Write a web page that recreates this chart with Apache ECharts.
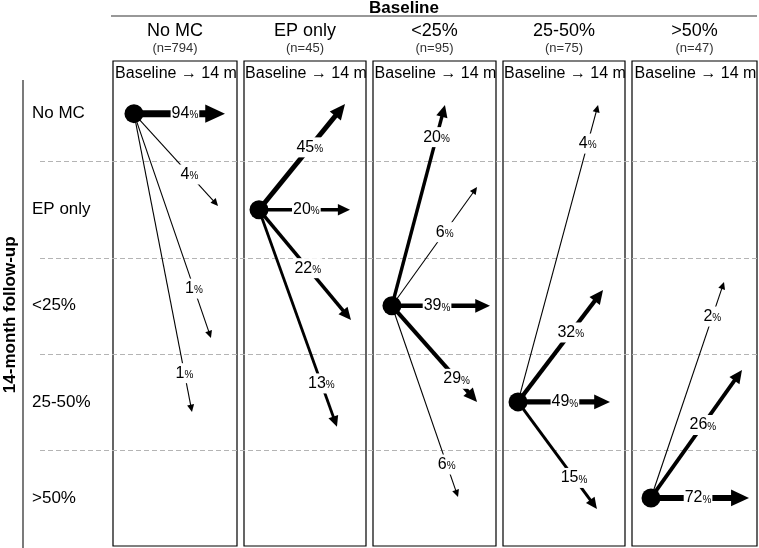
<!DOCTYPE html>
<html><head><meta charset="utf-8">
<script src="https://cdn.jsdelivr.net/npm/echarts@6/dist/echarts.min.js"></script>
<style>html,body{margin:0;padding:0;background:#fff}#c{width:759px;height:548px}</style>
</head><body><div id="c"></div>
<script>
// ---------- data ----------
const rowLabels = ['No MC', 'EP only', '<25%', '25-50%', '>50%'];      // 14-month follow-up categories
const baselineGroups = ['No MC', 'EP only', '<25%', '25-50%', '>50%']; // baseline categories
const groupN = [794, 45, 95, 75, 47];
// destination row (index into rowLabels) and percentage for each baseline group
const noMcDest = [0, 1, 2, 3];
const noMcPct = [94, 4, 1, 1];
const epOnlyDest = [0, 1, 2, 3];
const epOnlyPct = [45, 20, 22, 13];
const lt25Dest = [0, 1, 2, 3, 4];
const lt25Pct = [20, 6, 39, 29, 6];
const mid2550Dest = [0, 2, 3, 4];
const mid2550Pct = [4, 32, 49, 15];
const gt50Dest = [2, 3, 4];
const gt50Pct = [2, 26, 72];

// ---------- drawing layout (not data) ----------
// arrow tip: [x within panel 0..1, offset from destination row centre in row units]; label position along arrow
const noMcTips = [[0.903, 0], [0.847, -0.04], [0.79, 0.335], [0.637, 0.105]];
const noMcLabelAt = [0.56, 0.66, 0.78, 0.87];
const epOnlyTips = [[0.828, -0.10], [0.869, 0], [0.877, 0.148], [0.762, 0.26]];
const epOnlyLabelAt = [0.59, 0.52, 0.53, 0.80];
const lt25Tips = [[0.585, -0.09], [0.846, -0.236], [0.951, 0], [0.846, 0], [0.691, -0.01]];
const lt25LabelAt = [0.84, 0.62, 0.46, 0.76, 0.83];
const mid2550Tips = [[0.779, -0.09], [0.82, -0.165], [0.877, 0], [0.77, 0.115]];
const mid2550LabelAt = [0.87, 0.62, 0.51, 0.71];
const gt50Tips = [[0.736, -0.248], [0.88, -0.332], [0.936, 0]];
const gt50LabelAt = [0.84, 0.57, 0.48];
const dotX = [0.169, 0.123, 0.154, 0.123, 0.152];

const panelLeft = [113, 244, 373, 503, 632];
const panelWidth = [124, 122, 123, 122, 125];
const BOX_TOP = 61, ROW_TOP = 65.6, BOTTOM = 2;
const ROW_H = (548 - BOTTOM - ROW_TOP) / 5;
const FONT = '"Liberation Sans", Arial, Helvetica, sans-serif';

const panels = [
  [noMcDest, noMcPct, noMcTips, noMcLabelAt],
  [epOnlyDest, epOnlyPct, epOnlyTips, epOnlyLabelAt],
  [lt25Dest, lt25Pct, lt25Tips, lt25LabelAt],
  [mid2550Dest, mid2550Pct, mid2550Tips, mid2550LabelAt],
  [gt50Dest, gt50Pct, gt50Tips, gt50LabelAt]
];

function strokeWidth(p) { return p < 10 ? 1.1 : 0.31 + 0.69 * Math.sqrt(p); }

function makeRender(srcRow, dx0) {
  return function (params, api) {
    const dest = api.value(0), pct = api.value(1), tx = api.value(2), tdy = api.value(3), lt = api.value(4);
    const a = api.coord([dx0, srcRow + 0.5]);
    const b = api.coord([tx, dest + 0.5 + tdy]);
    const dx = b[0] - a[0], dy = b[1] - a[1], L = Math.hypot(dx, dy);
    const ux = dx / L, uy = dy / L, nx = -uy, ny = ux;
    const w = strokeWidth(pct), hl = 5 + 2.1 * w, hw = 2.5 + 0.95 * w;
    const base = [b[0] - ux * hl, b[1] - uy * hl];
    const lineEnd = [b[0] - ux * hl * 0.7, b[1] - uy * hl * 0.7];
    const lp = [a[0] + dx * lt, a[1] + dy * lt];
    return {
      type: 'group',
      children: [
        { type: 'line', shape: { x1: a[0], y1: a[1], x2: lineEnd[0], y2: lineEnd[1] }, style: { stroke: '#000', lineWidth: w } },
        { type: 'polygon', shape: { points: [b, [base[0] + nx * hw, base[1] + ny * hw], [base[0] - nx * hw, base[1] - ny * hw]] }, style: { fill: '#000' } },
        {
          type: 'text', x: lp[0], y: lp[1], z2: 10,
          style: {
            text: '{v|' + pct + '}{p|%}', align: 'center', verticalAlign: 'middle',
            fontSize: 16, fontFamily: FONT, fill: '#000',
            backgroundColor: '#fff', padding: [2, 1],
            rich: {
              v: { fontSize: 16, fontFamily: FONT, fill: '#000', verticalAlign: 'bottom' },
              p: { fontSize: 10, fontFamily: FONT, fill: '#000', verticalAlign: 'bottom', padding: [0, 0, 1, 0] }
            }
          }
        }
      ]
    };
  };
}

const grid = [
  { left: 40, right: 2, top: ROW_TOP, bottom: BOTTOM },
  { left: 23, width: 90, top: ROW_TOP, bottom: BOTTOM }
];
const xAxis = [
  { gridIndex: 0, type: 'value', show: false, min: 0, max: 1 },
  { gridIndex: 1, type: 'value', show: false, min: 0, max: 1 }
];
const yAxis = [
  {
    gridIndex: 0, type: 'value', inverse: true, min: 0, max: 5, interval: 1,
    axisLine: { show: false }, axisTick: { show: false }, axisLabel: { show: false },
    splitLine: { show: true, showMinLine: false, showMaxLine: false, lineStyle: { color: '#b4b4b4', type: [5, 3], width: 1 } }
  },
  {
    gridIndex: 1, type: 'category', data: rowLabels, inverse: true,
    axisLine: { show: false }, axisTick: { show: false }, splitLine: { show: false },
    axisLabel: { inside: true, align: 'left', margin: 9, fontSize: 17, color: '#000', fontFamily: FONT },
    name: '14-month follow-up', nameLocation: 'middle', nameRotate: 90, nameGap: 4,
    nameTextStyle: { fontSize: 17, fontWeight: 'bold', color: '#000', fontFamily: FONT, padding: [0, 18, 0, 0] }
  }
];
const series = [];
const yMinPanel = -(ROW_TOP - BOX_TOP) / ROW_H;

panels.forEach((p, i) => {
  const gi = i + 2;
  grid.push({ left: panelLeft[i], width: panelWidth[i], top: BOX_TOP, bottom: BOTTOM, show: true, borderColor: '#000', borderWidth: 1.2, backgroundColor: 'transparent' });
  xAxis.push({
    gridIndex: gi, type: 'value', min: 0, max: 1, position: 'top',
    axisLine: { show: false }, axisTick: { show: false }, axisLabel: { show: false }, splitLine: { show: false },
    name: '{h|' + baselineGroups[i] + '}\n{n|(n=' + groupN[i] + ')}', nameLocation: 'middle', nameGap: 5,
    nameTextStyle: {
      fontFamily: FONT,
      rich: {
        h: { fontSize: 18, lineHeight: 20, color: '#000', fontFamily: FONT, align: 'center' },
        n: { fontSize: 13, lineHeight: 15, color: '#333', fontFamily: FONT, align: 'center' }
      }
    }
  });
  yAxis.push({ gridIndex: gi, type: 'value', inverse: true, min: yMinPanel, max: 5, show: false });
  const [dest, pct, tips, labAt] = p;
  const data = dest.map((d, k) => [d, pct[k], tips[k][0], tips[k][1], labAt[k]]);
  series.push({
    type: 'custom', xAxisIndex: gi, yAxisIndex: gi, data: data,
    renderItem: makeRender(i, dotX[i]), silent: true, z: 3
  });
  series.push({
    type: 'scatter', xAxisIndex: gi, yAxisIndex: gi, data: [[dotX[i], i + 0.5]],
    symbol: 'circle', symbolSize: 19, itemStyle: { color: '#000', opacity: 1 }, silent: true, z: 6
  });
});

const graphic = [
  { type: 'line', shape: { x1: 111, y1: 16, x2: 757, y2: 16 }, style: { stroke: '#333', lineWidth: 1.2 } },
  { type: 'text', x: 404, y: 8, style: { text: 'Baseline', font: 'bold 17px ' + FONT, fill: '#000', align: 'center', verticalAlign: 'middle' } },
  { type: 'line', shape: { x1: 23, y1: 80, x2: 23, y2: 548 }, style: { stroke: '#222', lineWidth: 1.2 } }
];
panelLeft.forEach((l, i) => {
  graphic.push({ type: 'text', x: l + panelWidth[i] / 2 + 1, y: 74, z: 10,
    style: { text: 'Baseline \u2192 14 m', font: '16px ' + FONT, fill: '#000', align: 'center', verticalAlign: 'middle' } });
});

const chart = echarts.init(document.getElementById('c'), null, { renderer: 'canvas' });
chart.setOption({
  animation: false,
  backgroundColor: '#fff',
  grid: grid, xAxis: xAxis, yAxis: yAxis, series: series, graphic: graphic
});
</script></body></html>
